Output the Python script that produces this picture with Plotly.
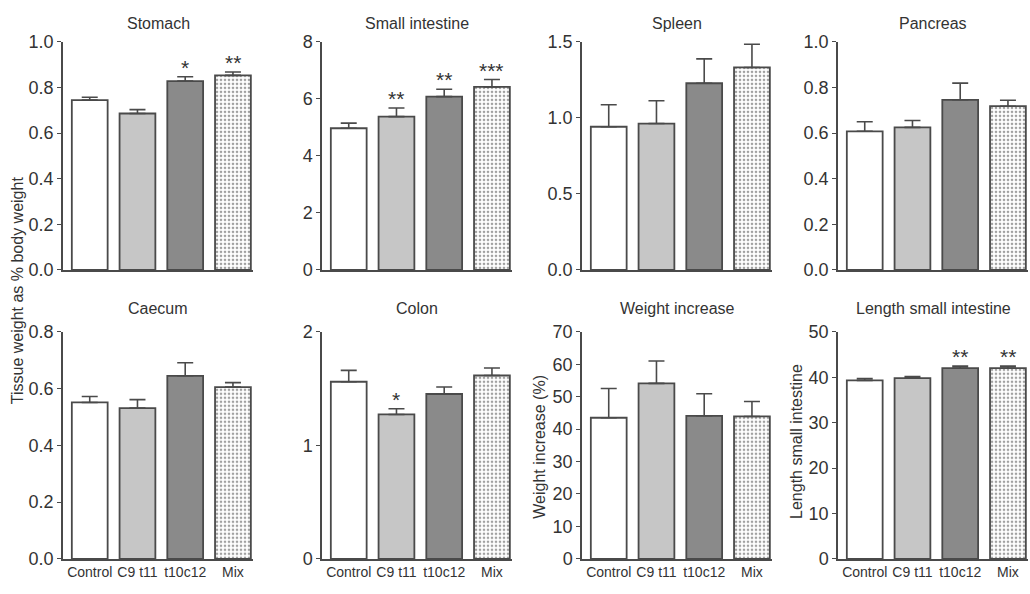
import plotly.graph_objects as go

groups = ["Control", "C9 t11", "t10c12", "Mix"]

panel_titles = ["Stomach", "Small intestine", "Spleen", "Pancreas",
                "Caecum", "Colon", "Weight increase", "Length small intestine"]

stomach = [0.745, 0.686, 0.828, 0.853]
stomach_err = [0.012, 0.017, 0.019, 0.015]
small_int = [4.97, 5.38, 6.08, 6.42]
small_int_err = [0.18, 0.30, 0.26, 0.26]
spleen = [0.942, 0.963, 1.228, 1.332]
spleen_err = [0.145, 0.150, 0.160, 0.152]
pancreas = [0.608, 0.625, 0.746, 0.718]
pancreas_err = [0.042, 0.030, 0.073, 0.026]
caecum = [0.551, 0.531, 0.645, 0.605]
caecum_err = [0.021, 0.030, 0.046, 0.016]
colon = [1.560, 1.272, 1.452, 1.615]
colon_err = [0.100, 0.050, 0.062, 0.066]
weight_inc = [43.5, 54.1, 44.1, 43.9]
weight_inc_err = [9.0, 6.9, 6.8, 4.6]
length_si = [39.3, 39.8, 42.0, 42.0]
length_si_err = [0.4, 0.35, 0.45, 0.45]

values = [stomach, small_int, spleen, pancreas, caecum, colon, weight_inc, length_si]
errors = [stomach_err, small_int_err, spleen_err, pancreas_err,
          caecum_err, colon_err, weight_inc_err, length_si_err]

stars = [["", "", "*", "**"], ["", "**", "**", "***"], ["", "", "", ""], ["", "", "", ""],
         ["", "", "", ""], ["", "*", "", ""], ["", "", "", ""], ["", "", "**", "**"]]

y_max = [1.0, 8, 1.5, 1.0, 0.8, 2, 70, 50]
y_ticks = [[0, 0.2, 0.4, 0.6, 0.8, 1.0], [0, 2, 4, 6, 8], [0, 0.5, 1.0, 1.5],
           [0, 0.2, 0.4, 0.6, 0.8, 1.0], [0, 0.2, 0.4, 0.6, 0.8], [0, 1, 2],
           [0, 10, 20, 30, 40, 50, 60, 70], [0, 10, 20, 30, 40, 50]]
y_ticktext = [["0.0", "0.2", "0.4", "0.6", "0.8", "1.0"], ["0", "2", "4", "6", "8"],
              ["0.0", "0.5", "1.0", "1.5"], ["0.0", "0.2", "0.4", "0.6", "0.8", "1.0"],
              ["0.0", "0.2", "0.4", "0.6", "0.8"], ["0", "1", "2"],
              ["0", "10", "20", "30", "40", "50", "60", "70"], ["0", "10", "20", "30", "40", "50"]]

W, H = 1030, 594
FONT = "Liberation Sans, Arial, Helvetica, sans-serif"
TXT = "#333333"
EDGE = "#4a4a4a"

x_px = [(63, 253), (322, 512), (582, 772), (838, 1028)]
y_px = [(33, 269), (333, 568)]

fig = go.Figure()
fills = ["#ffffff", "#c6c6c6", "#8a8a8a", "#ffffff"]

for i in range(8):
    r, c = divmod(i, 4)
    ax = "" if i == 0 else str(i + 1)
    xa, ya = "x" + ax, "y" + ax
    x0, x1 = x_px[c]
    yt, yb = y_px[r]
    fig.add_trace(go.Bar(
        x=[0, 1, 2, 3], y=values[i], width=0.75,
        xaxis=xa, yaxis=ya,
        marker=dict(color=fills, line=dict(color=EDGE, width=1.8),
                    pattern=dict(shape=["", "", "", "."], fgcolor="#777777",
                                 bgcolor="#ffffff", size=4, solidity=0.35)),
        error_y=dict(type="data", array=errors[i], arrayminus=[0, 0, 0, 0],
                     symmetric=False, color=EDGE, thickness=1.6, width=8),
        showlegend=False, hoverinfo="skip"))
    fig.layout["xaxis" + ax] = dict(
        domain=[x0 / W, x1 / W], anchor=ya, range=[-0.56, 3.42],
        tickmode="array", tickvals=[0, 1, 2, 3],
        ticktext=groups if r == 1 else ["", "", "", ""],
        showticklabels=(r == 1), ticks="", showline=True, linecolor=EDGE, linewidth=1.5,
        showgrid=False, zeroline=False, fixedrange=True,
        tickfont=dict(family=FONT, size=14, color=TXT))
    fig.layout["yaxis" + ax] = dict(
        domain=[1 - yb / H, 1 - yt / H], anchor=xa, range=[0, y_max[i]],
        tickmode="array", tickvals=y_ticks[i], ticktext=y_ticktext[i],
        ticks="outside", ticklen=4, tickcolor=EDGE, tickwidth=1.2,
        showline=True, linecolor=EDGE, linewidth=1.5,
        showgrid=False, zeroline=False, fixedrange=True,
        tickfont=dict(family=FONT, size=18, color=TXT))
    # panel title
    fig.add_annotation(text=panel_titles[i], xref="paper", yref="paper",
                       x=(x0 + x1) / 2 / W, y=1 - (14 if r == 0 else 309) / H,
                       showarrow=False, xanchor="center", yanchor="middle",
                       font=dict(family=FONT, size=16, color=TXT))
    # significance stars
    for k in range(4):
        if stars[i][k]:
            fig.add_annotation(text=stars[i][k], xref=xa, yref=ya, x=k,
                               y=values[i][k] + errors[i][k], yshift=-4,
                               showarrow=False, yanchor="bottom",
                               font=dict(family=FONT, size=21, color=TXT))

fig.add_annotation(text="Tissue weight as % body weight", xref="paper", yref="paper",
                   x=17 / W, y=1 - 290 / H, textangle=-90, showarrow=False,
                   xanchor="center", yanchor="middle",
                   font=dict(family=FONT, size=16, color=TXT))
fig.add_annotation(text="Weight increase (%)", xref="paper", yref="paper",
                   x=540 / W, y=1 - 452 / H, textangle=-90, showarrow=False,
                   xanchor="center", yanchor="middle",
                   font=dict(family=FONT, size=16, color=TXT))
fig.add_annotation(text="Length small intestine", xref="paper", yref="paper",
                   x=797 / W, y=1 - 447 / H, textangle=-90, showarrow=False,
                   xanchor="center", yanchor="middle",
                   font=dict(family=FONT, size=16, color=TXT))

fig.update_layout(width=W, height=H, margin=dict(l=0, r=0, t=0, b=0),
                  paper_bgcolor="white", plot_bgcolor="white", bargap=0.25)

fig.write_html("out.html")
